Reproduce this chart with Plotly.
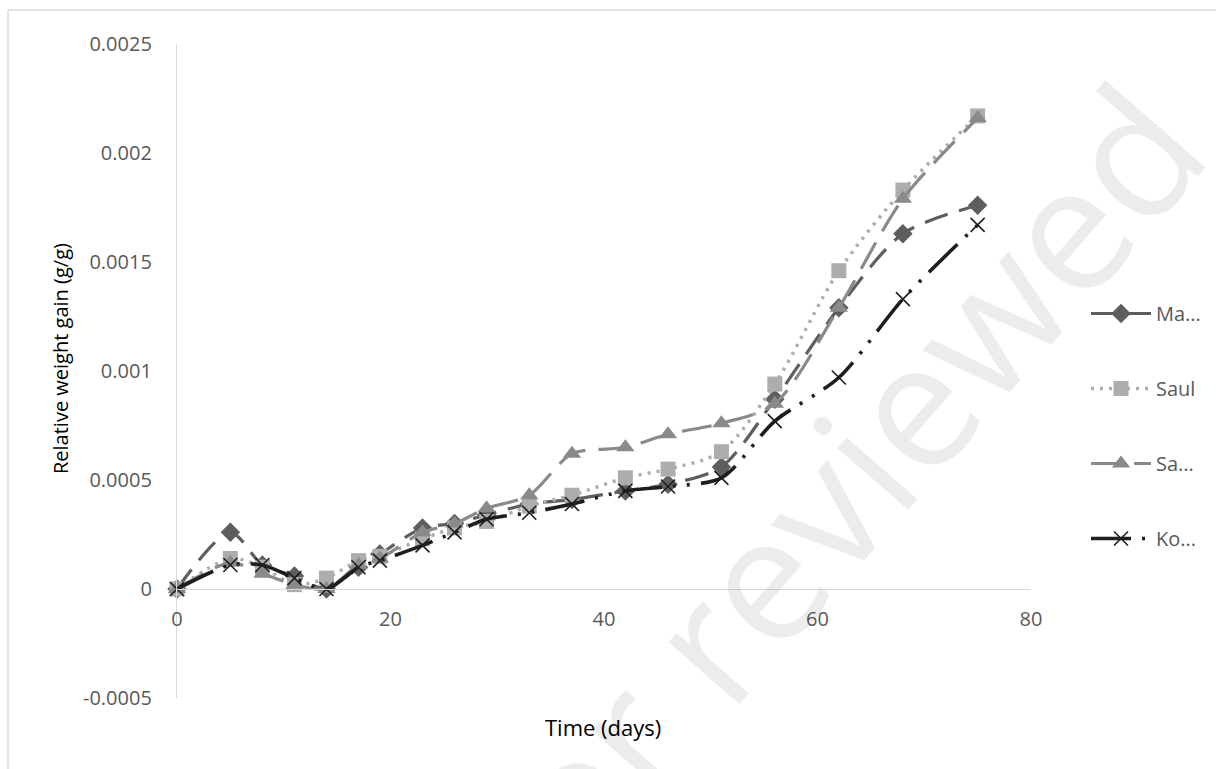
import plotly.graph_objects as go

# Sampling days
days = [0, 5, 8, 11, 14, 17, 19, 23, 26, 29, 33, 37, 42, 46, 51, 56, 62, 68, 75]

# Relative weight gain (g/g) per treatment
marnah = [0, 0.00026, 0.00011, 0.00006, 0, 0.00010, 0.00016, 0.00028, 0.00030, 0.00034,
          0.00039, 0.00041, 0.00045, 0.00048, 0.00056, 0.00087, 0.00129, 0.00163, 0.00176]
saul = [0, 0.00014, 0.00010, 0.00002, 0.00005, 0.00013, 0.00015, 0.00023, 0.00028, 0.00031,
        0.00038, 0.00043, 0.00051, 0.00055, 0.00063, 0.00094, 0.00146, 0.00183, 0.00217]
saga = [0, 0.00012, 0.00007, 0.00002, 0, 0.00011, 0.00014, 0.00026, 0.00030, 0.00037,
        0.00043, 0.00062, 0.00065, 0.00071, 0.00076, 0.00085, 0.00129, 0.00179, 0.00216]
kontrol = [0, 0.00011, 0.00011, 0.00005, 0, 0.00010, 0.00013, 0.00020, 0.00026, 0.00032,
           0.00035, 0.00039, 0.00045, 0.00047, 0.00051, 0.00077, 0.00097, 0.00133, 0.00167]

series_names = ["Ma...", "Saul", "Sa...", "Ko..."]

x_ticks = [0, 20, 40, 60, 80]
y_ticks = [-0.0005, 0, 0.0005, 0.001, 0.0015, 0.002, 0.0025]
y_tick_text = ["-0.0005", "0", "0.0005", "0.001", "0.0015", "0.002", "0.0025"]

FONT = "Open Sans"
TICK_GREY = "#595959"
AXIS_GREY = "#D9D9D9"

# Figure geometry (pixels)
W, H = 1216, 769
ML, MR, MT, MB = 177, 185, 44, 71
PW, PH = W - ML - MR, H - MT - MB


def px_x(px):
    return (px - ML) / PW


def px_y(py):
    return (H - MB - py) / PH


styles = [
    dict(color="#5E5E5E", dash="24px,12px", width=3.2,
         marker=dict(symbol="diamond", size=15, color="#5E5E5E")),
    dict(color="#ADADAD", dash="3px,6px", width=3.5,
         marker=dict(symbol="square", size=15, color="#ADADAD")),
    dict(color="#8A8A8A", dash="30px,13px", width=3.2,
         marker=dict(symbol="triangle-up", size=16, color="#8A8A8A")),
    dict(color="#1E1E1E", dash="40px,11px,3px,11px,3px,11px", width=3.6,
         marker=dict(symbol="x-thin", size=14, color="#1E1E1E",
                     line=dict(color="#1E1E1E", width=1.6))),
]

fig = go.Figure()
for name, values, st in zip(series_names, [marnah, saul, saga, kontrol], styles):
    fig.add_trace(go.Scatter(
        x=days, y=values, name=name, legendgroup=name,
        mode="lines+markers",
        line=dict(color=st["color"], dash=st["dash"], width=st["width"],
                  shape="spline", smoothing=0.8),
        marker=st["marker"],
        cliponaxis=False,
    ))

fig.update_layout(
    width=W, height=H,
    margin=dict(l=ML, r=MR, t=MT, b=MB, autoexpand=False),
    paper_bgcolor="white", plot_bgcolor="white",
    font=dict(family=FONT, size=20, color=TICK_GREY),
    showlegend=True,
    legend=dict(
        x=px_x(1086), xanchor="left", y=px_y(294), yanchor="top",
        tracegroupgap=46, itemwidth=60,
        font=dict(family=FONT, size=20, color=TICK_GREY),
        bgcolor="rgba(0,0,0,0)",
    ),
    xaxis=dict(
        range=[0, 80], tickvals=x_ticks, ticktext=[str(v) for v in x_ticks],
        showgrid=False, zeroline=False,
        showline=True, linecolor=AXIS_GREY, linewidth=1.3,
        anchor="free", position=px_y(589),
        ticks="", ticklabelstandoff=12,
        tickfont=dict(family=FONT, size=20, color=TICK_GREY),
    ),
    yaxis=dict(
        range=[-0.0005, 0.0025], tickvals=y_ticks, ticktext=y_tick_text,
        showgrid=False, zeroline=False,
        showline=True, linecolor=AXIS_GREY, linewidth=1.3,
        ticks="", ticklabelstandoff=20,
        tickfont=dict(family=FONT, size=20, color=TICK_GREY),
    ),
    annotations=[
        dict(text="Time (days)", xref="paper", yref="paper",
             x=px_x(603), y=px_y(727), xanchor="center", yanchor="middle",
             showarrow=False,
             font=dict(family=FONT, size=22, color="#000000")),
        dict(text="Relative weight gain (g/g)", xref="paper", yref="paper",
             x=px_x(60), y=px_y(358), xanchor="center", yanchor="middle",
             showarrow=False, textangle=-90,
             font=dict(family=FONT, size=20, color="#000000")),
        dict(text="Preprint not peer reviewed", xref="paper", yref="paper",
             x=px_x(444), y=px_y(940), xanchor="center", yanchor="middle",
             showarrow=False, textangle=-49,
             font=dict(family=FONT, size=175, color="rgba(0,0,0,0.075)")),
    ],
    shapes=[
        # chart-area frame
        dict(type="line", xref="paper", yref="paper",
             x0=px_x(8), y0=px_y(10), x1=px_x(1216), y1=px_y(10),
             line=dict(color=AXIS_GREY, width=1.3)),
        dict(type="line", xref="paper", yref="paper",
             x0=px_x(8), y0=px_y(10), x1=px_x(8), y1=px_y(769),
             line=dict(color=AXIS_GREY, width=1.3)),
    ],
)

fig.write_html("out.html")
